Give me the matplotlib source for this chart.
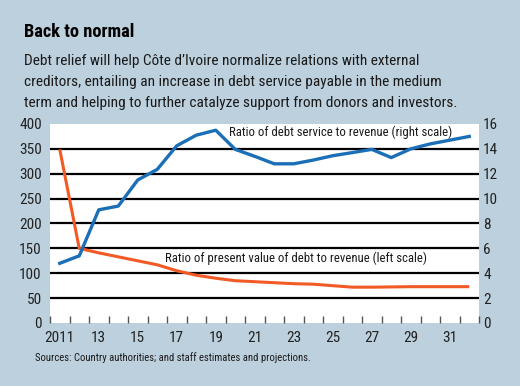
import numpy as np
import matplotlib.pyplot as plt
from matplotlib.ticker import FixedLocator

plt.rcParams['font.family'] = ['Roboto Condensed', 'Archivo Narrow', 'Liberation Sans', 'DejaVu Sans']

years = np.arange(2011, 2033)
# ratio of present value of debt to revenue (left scale, percent)
pv_debt = [349, 150, 141, 133, 125, 117, 105, 96, 90, 85, 83,
           81, 79, 78, 75, 72, 72, 72.5, 73, 73, 73, 73]
# ratio of debt service to revenue (right scale, percent)
debt_service = [4.8, 5.4, 9.1, 9.4, 11.5, 12.35, 14.25, 15.1, 15.5, 13.96, 13.4,
                12.8, 12.8, 13.1, 13.45, 13.7, 13.96, 13.3, 14.0, 14.4, 14.7, 15.0]
xlabels = ['2011', '13', '15', '17', '19', '21', '23', '25', '27', '29', '31']

bg = '#bdd0de'
fig = plt.figure(figsize=(5.2, 3.86), dpi=100, facecolor=bg)

fig.text(24/520, 1 - 32/386, 'Back to normal', fontsize=13.2, fontweight='bold',
         va='center', ha='left', color='black')
sub = ["Debt relief will help C\u00f4te d\u2019Ivoire normalize relations with external",
       "creditors, entailing an increase in debt service payable in the medium",
       "term and helping to further catalyze support from donors and investors."]
for i, s in enumerate(sub):
    fig.text(24/520, 1 - (61 + 21*i)/386, s, fontsize=11.1, va='center', ha='left', color='#1a1a1a')

ax = fig.add_axes([50/520, 63/386, 429/520, 199/386])
ax.set_facecolor('white')
ax.set_xlim(2010.5, 2032.5)
ax.set_ylim(0, 400)
for y in range(50, 400, 50):
    ax.axhline(y, color='black', lw=1.6, zorder=1)
ax.plot(years, pv_debt, color='#f15a24', lw=2.2, zorder=3, solid_capstyle='butt')

ax2 = ax.twinx()
ax2.set_ylim(0, 16)
ax2.plot(years, debt_service, color='#1b6fb7', lw=2.4, zorder=3)

for a in (ax, ax2):
    for sp in a.spines.values():
        sp.set_visible(False)

ax.set_yticks(range(0, 401, 50))
ax2.set_yticks(range(0, 17, 2))
ax.tick_params(axis='y', length=0, pad=6, labelsize=11, labelcolor='#222222')
ax2.tick_params(axis='y', length=0, pad=3, labelsize=11, labelcolor='#222222')

ax.set_xticks(years[::2])
ax.set_xticklabels(xlabels)
ax.xaxis.set_minor_locator(FixedLocator(np.arange(2010.5, 2033, 1)))
ax.tick_params(axis='x', which='major', length=0, pad=6, labelsize=11, labelcolor='#222222')
ax.tick_params(axis='x', which='minor', direction='in', length=5, width=1, color='#555555')

ax.text(2019.7, 384, 'Ratio of debt service to revenue (right scale)', fontsize=9.2,
        ha='left', va='center', color='#1a1a1a', zorder=5)
ax.text(2016.4, 131, 'Ratio of present value of debt to revenue (left scale)', fontsize=9.2,
        ha='left', va='center', color='#1a1a1a', zorder=5)

fig.text(35/520, 1 - 358/386, 'Sources: Country authorities; and staff estimates and projections.',
         fontsize=7.7, va='center', ha='left', color='#1a1a1a')

fig.savefig('out.png', dpi=100, facecolor=bg)
